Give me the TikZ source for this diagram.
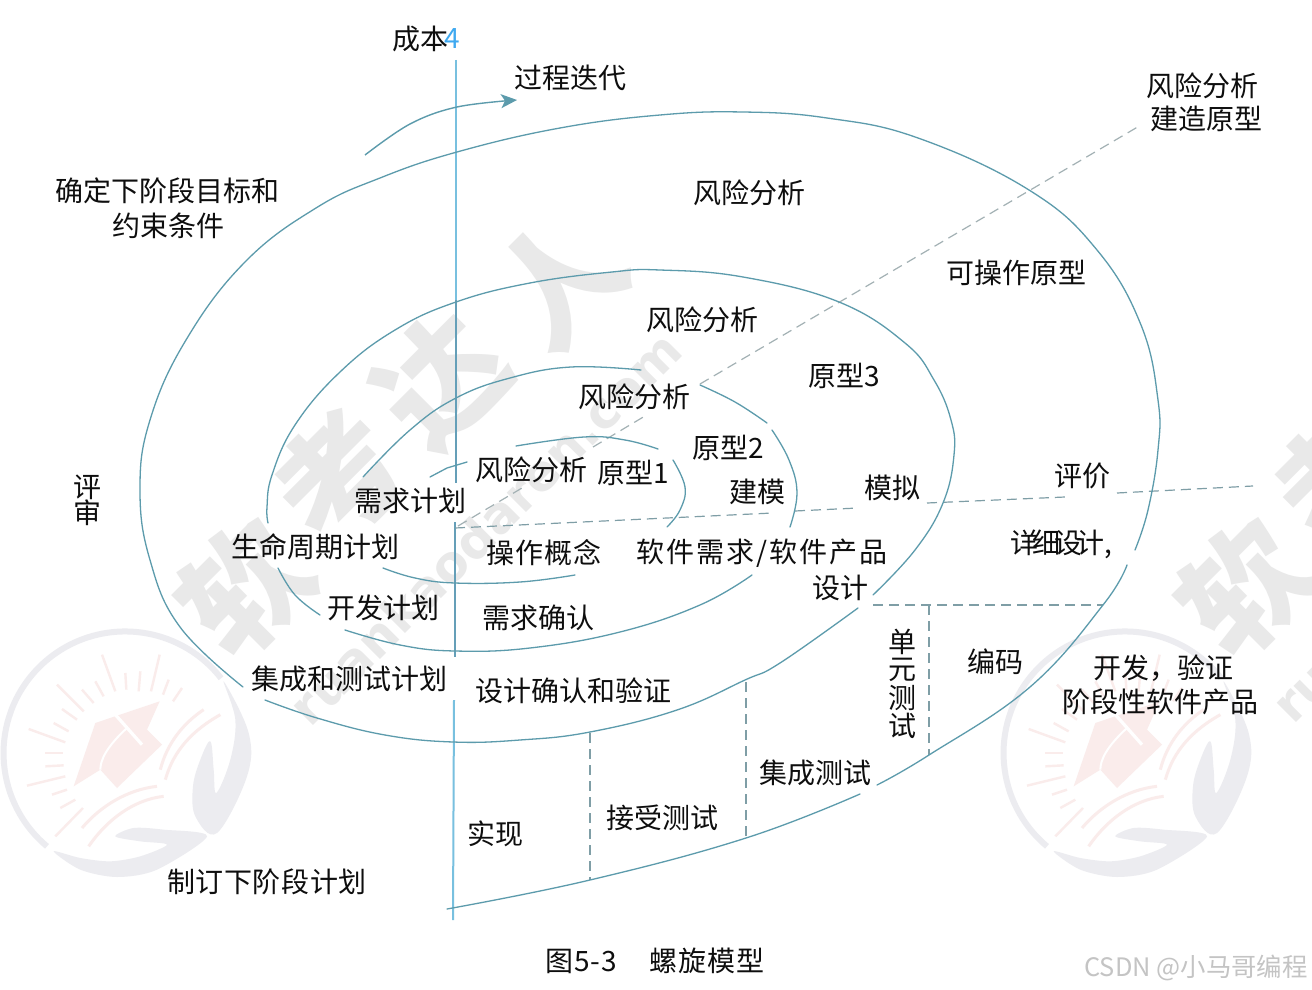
\documentclass[tikz,border=0pt]{standalone}
\usepackage{fontspec}
\setmainfont{Noto Sans CJK SC}
\newfontfamily\wmlatin{DejaVu Sans}
\usetikzlibrary{arrows.meta}
\definecolor{curve}{HTML}{5C9BAC}
\definecolor{axisblue}{HTML}{78C0DF}
\definecolor{axismid}{HTML}{659FB8}
\definecolor{dashcol}{HTML}{7F9EA6}
\definecolor{diagcol}{HTML}{A3B1B4}
\definecolor{ink}{HTML}{0E0E0E}
\definecolor{wm}{HTML}{E9E9E9}
\definecolor{logogrey}{HTML}{ECECF0}
\definecolor{logopink}{HTML}{FAECEB}
\definecolor{numblue}{HTML}{3FA9F0}
\tikzset{
  spiral/.style={draw=curve,line width=.65pt,line cap=round},
  axisline/.style={draw=axisblue,line width=1pt},
  dashline/.style={draw=dashcol,line width=.6pt,dash pattern=on 5pt off 3pt},
  diagline/.style={draw=diagcol,line width=.6pt,dash pattern=on 5pt off 3pt},
  lab/.style={inner sep=0pt,text=ink,font=\fontsize{14}{16}\selectfont,align=center},
  wmchar/.style={inner sep=0pt,text=wm,rotate=45,font=\fontsize{62}{62}\selectfont\bfseries},
  wmword/.style={inner sep=0pt,text=wm,rotate=45,font=\wmlatin\fontsize{25}{25}\selectfont\bfseries},
  logomark/.pic={
    \begin{scope}[x=0.16667pt,y=-0.16667pt,shift={(-380,-400)}]
      \fill[logopink] (285,310) -- (478,245) -- (440,330) -- (485,375) -- (350,505) -- (300,450) -- (220,500) -- cycle;
      \draw[white,line width=1.6pt] (345,285) -- (425,375);
      \draw[white,line width=1pt] (380,325) .. controls (320,380) and (300,420) .. (300,450);
      \foreach \a/\b/\c/\d in {305/105/345/215,375/160/378/210,420/155/415/215,478/105/452/215,505/180/488/225,545/205/518/245,170/195/250/275,245/210/280/250,285/185/310/230,185/268/230/300,160/310/205/335,85/328/195/368,135/400/188/400,135/440/190/437,80/498/195/470,155/525/200/510,180/565/225/540,165/650/248/565}
        {\draw[logopink,line width=1.2pt] (\a,\b) -- (\c,\d);}
      \draw[logopink,line width=1.5pt] (245,625) .. controls (300,560) and (380,510) .. (470,500);
      \draw[logopink,line width=1.5pt] (265,680) .. controls (320,600) and (400,540) .. (490,530);
      \draw[logopink,line width=1.5pt] (480,450) .. controls (500,370) and (550,310) .. (610,270);
      \draw[logopink,line width=1.5pt] (495,480) .. controls (520,390) and (580,330) .. (660,285);
      \draw[logogrey,line width=3pt] (140,680) arc[start angle=130,end angle=322,radius=365];
      \fill[logogrey] plot[smooth cycle,tension=.6] coordinates {(670,185) (745,340) (740,470) (650,640) (585,590) (578,500) (600,420) (630,365) (640,450) (648,520) (690,420) (705,300)};
      \fill[logogrey] plot[smooth cycle,tension=.5] coordinates {(160,695) (240,750) (350,772) (470,750) (620,650) (490,630) (400,625) (345,650) (420,665) (500,675) (420,710) (330,725) (240,715)};
    \end{scope}
  }
}
\begin{document}
\begin{tikzpicture}[x=0.5pt,y=-0.5pt]
\useasboundingbox (0,0) rectangle (1312,990);
\clip (0,0) rectangle (1312,990);
\fill[white] (0,0) rectangle (1312,990);

% watermarks
\pic at (127,753) {logomark};
\pic at (1127,753) {logomark};
\node[wmchar] (w1) at (245,587) {软};
\node[wmchar] (w2) at (339,477) {考};
\node[wmchar] (w3) at (441,380) {达};
\node[wmchar] (w4) at (559,280) {人};
\node[wmchar] (w5) at (1245,587) {软};
\node[wmchar] (w6) at (1339,477) {考};
\node[wmword] (w7) at (485,528) {ruankaodaren.com};
\node[wmword] (w8) at (1305,695) {ru};

% axis
\draw[axisline] (456,60) -- (456,300);
\draw[axismid,line width=.8pt] (456,300) -- (456,483);
\draw[axismid,line width=.8pt] (455,522) -- (455,657);
\draw[axisline] (454,700) -- (453,920);

% dashed radial lines
\draw[dashline] (455,528) -- (773,513);
\draw[dashline] (795,511) -- (858,508);
\draw[dashline] (927,503) -- (1065,497);
\draw[dashline] (1117,493) -- (1253,486);
\draw[diagline] (458,526) -- (522,488);
\draw[diagline] (593,447) -- (645,416);
\draw[diagline] (700,384) -- (1141,125);
\draw[dashline] (590,733) -- (590,880);
\draw[dashline] (746,682) -- (746,838);
\draw[dashline] (929,605) -- (929,755);
\draw[dashline] (873,605) -- (1103,605);

% spiral, from the outside in
\draw[spiral] plot[smooth,tension=.7] coordinates {(447,909) (590,880) (746,838) (860,794)};
\draw[spiral] plot[smooth,tension=.7] coordinates {(877,785) (929,755) (1030,687) (1103,605) (1127,565)};
\draw[spiral] plot[smooth,tension=.7] coordinates {(1135,550) (1148,510) (1158,450) (1158,400) (1141,325) (1097,250) (1029,190) (918,138) (827,118) (743,112) (660,115) (560,128) (457,152) (380,178) (316,208) (245,262) (186,340) (150,420) (140,490) (150,560) (180,627) (243,687)};
\draw[spiral] plot[smooth,tension=.7] coordinates {(265,700) (317,718) (385,735) (453,742) (520,740) (590,732) (677,710) (745,680) (780,663) (858,608)};
\draw[spiral] plot[smooth,tension=.7] coordinates {(873,595) (915,550) (943,503) (954,455) (951,420) (934,380) (905,343) (839,302) (743,277) (660,270) (612,272) (530,283) (456,302) (395,330) (340,372) (295,425) (272,475) (267,507) (268,523)};
\draw[spiral] plot[smooth,tension=.7] coordinates {(278,568) (295,595) (320,615)};
\draw[spiral] plot[smooth,tension=.7] coordinates {(345,630) (400,645) (455,651) (530,648) (620,632) (700,605) (752,575)};
\draw[spiral] plot[smooth,tension=.7] coordinates {(790,527) (797,493) (789,460) (772,430)};
\draw[spiral] plot[smooth,tension=.7] coordinates {(767,423) (735,402) (700,385)};
\draw[spiral] plot[smooth,tension=.7] coordinates {(641,370) (571,367) (510,378) (456,398) (410,430) (363,477)};
\draw[spiral] plot[smooth,tension=.7] coordinates {(383,568) (415,578) (455,583) (520,582) (575,575)};
\draw[spiral] plot[smooth,tension=.7] coordinates {(667,527) (680,510) (685,487) (673,460)};
\draw[spiral] plot[smooth,tension=.7] coordinates {(658,449) (625,440) (584,437) (516,446)};
\draw[spiral] (430,477) -- (447,468) -- (467,462);

% iteration arrow
\draw[curve,line width=.7pt,-{Stealth[length=8pt,width=7pt,inset=2pt]}] plot[smooth,tension=.6] coordinates {(365,155) (410,124) (457,107) (517,100)};

% labels
\node[lab] (t1) at (420,39) {成本};
\node[lab,text=numblue] (t2) at (452,39) {4};
\node[lab] (t3) at (570,78) {过程迭代};
\node[lab] (t4) at (1202,86) {风险分析};
\node[lab] (t5) at (1206,119) {建造原型};
\node[lab] (t6) at (167,191) {确定下阶段目标和};
\node[lab] (t7) at (168,226) {约束条件};
\node[lab] (t8) at (749,193) {风险分析};
\node[lab] (t9) at (1016,273) {可操作原型};
\node[lab] (t10) at (702,320) {风险分析};
\node[lab] (t11) at (844,376) {原型3};
\node[lab] (t12) at (634,397) {风险分析};
\node[lab] (t13) at (728,448) {原型2};
\node[lab] (t14) at (531,470) {风险分析};
\node[lab] (t15) at (633,473) {原型1};
\node[lab] (t16) at (757,492) {建模};
\node[lab] (t17) at (892,488) {模拟};
\node[lab] (t18) at (1082,476) {评价};
\node[lab] (t19) at (410,501) {需求计划};
\node[lab] (t20) at (87,487) {评};
\node[lab] (t21) at (87,513) {审};
\node[lab] (t22) at (315,547) {生命周期计划};
\node[lab] (t23) at (544,553) {操\kern.6pt 作\kern.6pt 概\kern.6pt 念};
\node[lab] (t24) at (762,553) {软\kern1pt 件\kern1pt 需\kern1pt 求\kern1pt /\kern1pt 软\kern1pt 件\kern1pt 产\kern1pt 品};
\node[lab] (t25) at (840,588) {设计};
\node[lab] (t26) at (1061,544) {详\kern-3pt 细\kern-3pt 设\kern-3pt 计,};
\node[lab] (t27) at (383,608) {开发计划};
\node[lab] (t28) at (538,618) {需求确认};
\node[lab] (t29) at (349,679) {集成和测试计划};
\node[lab] (t30) at (573,691) {设计确认和验证};
\node[lab] (t31) at (995,662) {编码};
\node[lab] (t32) at (1163,668) {开发，验证};
\node[lab] (t33) at (1160,702) {阶段性软件产品};
\node[lab] (t34) at (902,642) {单};
\node[lab] (t35) at (902,670) {元};
\node[lab] (t36) at (902,698) {测};
\node[lab] (t37) at (902,726) {试};
\node[lab] (t38) at (495,834) {实现};
\node[lab] (t39) at (662,818) {接受测试};
\node[lab] (t40) at (815,773) {集成测试};
\node[lab] (t41) at (267,882) {制\kern.3pt 订\kern.3pt 下\kern.3pt 阶\kern.3pt 段\kern.3pt 计\kern.3pt 划};
\node[lab] (t42) at (581,961) {图\kern.5pt 5\kern.5pt -\kern.5pt 3};
\node[lab] (t43) at (707,961) {螺\kern.5pt 旋\kern.5pt 模\kern.5pt 型};
\node[inner sep=0pt,text=black!23,font=\fontsize{12.7}{15}\selectfont,anchor=east] (t44) at (1308,968) {CSDN @小马哥编程};
\end{tikzpicture}
\end{document}
